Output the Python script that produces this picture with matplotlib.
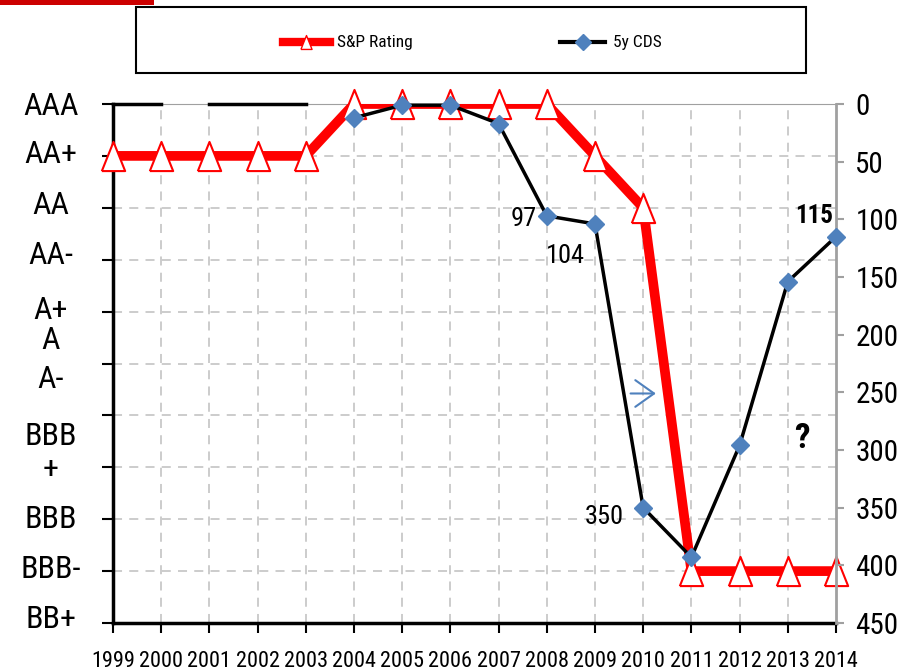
import numpy as np
import matplotlib
matplotlib.use('Agg')
import matplotlib.pyplot as plt
from matplotlib import font_manager

# look for a narrow/condensed face (chart was made with Arial Narrow)
cond = None
for pref in ['LiberationSansNarrow-Regular', 'RobotoCondensed-Regular', 'DejaVuSansCondensed.ttf',
             'Condensed-Regular', 'Condensed']:
    hits = [f.fname for f in font_manager.fontManager.ttflist
            if pref in f.fname.split('/')[-1] and 'Bold' not in f.fname and 'Oblique' not in f.fname]
    if hits:
        cond = hits[0]
        break
cond_b = None
if cond:
    b = [f.fname for f in font_manager.fontManager.ttflist
         if f.fname.split('/')[-1].replace('-Bold', '-Regular').replace('Bold', '') ==
         cond.split('/')[-1] and 'Bold' in f.fname and 'Oblique' not in f.fname]
    cond_b = b[0] if b else None


def fp(size, bold=False):
    if bold and cond_b:
        return font_manager.FontProperties(fname=cond_b, size=size)
    if cond:
        return font_manager.FontProperties(fname=cond, size=size, weight='bold' if bold else 'normal')
    return font_manager.FontProperties(family='Liberation Sans', size=size,
                                       weight='bold' if bold else 'normal')


years = list(range(1999, 2015))
# S&P rating on notch scale (0 = AAA, 1 = AA+, ... 9 = BBB-)
rating = [1, 1, 1, 1, 1, 0, 0, 0, 0, 0, 1, 2, 9, 9, 9, 9]
cds_years = list(range(2004, 2015))
cds = [12, 1, 1, 17, 97, 104, 350, 393, 296, 154, 115]
early_segments = [(1999, 2000), (2001, 2003)]

rating_labels = ['AAA', 'AA+', 'AA', 'AA-', 'A+', 'A', 'A-', 'BBB', '+', 'BBB', 'BBB-', 'BB+']
label_pos = [0.05, 0.98, 1.95, 2.92, 3.97, 4.55, 5.3, 6.4, 7.05, 8.0, 8.97, 9.94]

cds_notes = [(2008, 97, '97'), (2009, 104, '104'), (2010, 350, '350')]

fig = plt.figure(figsize=(8.99, 6.71), dpi=100)
ax = fig.add_axes([113 / 899, 1 - 623 / 671, (836 - 113) / 899, (623 - 104) / 671])
ax2 = ax.twinx()

ax.set_xlim(1999, 2014)
ax.set_ylim(10, 0)
ax2.set_ylim(450, 0)

# grid
for y in range(1, 10):
    ax.axhline(y, color='#c8c8c8', lw=1.3, ls=(0, (5, 4)), zorder=0)
for x in years[1:-1]:
    ax.axvline(x, color='#c8c8c8', lw=1.3, ls=(0, (5, 4)), zorder=0)

# red rating line, tall narrow open triangles
tri = [(-0.8, -1), (0.8, -1), (0, 1), (-0.8, -1)]
ax.plot(years, rating, color='#ff0000', lw=7, zorder=3, solid_joinstyle='miter')
ax.plot(years, rating, ls='none', marker=tri, ms=21, mfc='white', mec='#ff0000',
        mew=1.5, zorder=4, clip_on=False)

# CDS
for a, b in early_segments:
    ax2.plot([a, b], [0, 0], color='black', lw=2.5, zorder=5, clip_on=False)
ax2.plot(cds_years, cds, color='black', lw=2.5, marker='D', ms=9, mfc='#4f81bd',
         mec='#4f81bd', zorder=6, clip_on=False)

offs = {'97': (0.2, 3), '104': (0.2, 28), '350': (0.4, 8)}
for x, y, t in cds_notes:
    dx, dy = offs[t]
    ax2.text(x - dx, y + dy, t, fontproperties=fp(19), ha='right', va='center')
ax2.text(2013.95, 97, '115', fontproperties=fp(18, bold=True), ha='right', va='center')
ax2.text(2013.3, 290, '?', fontproperties=fp(25, bold=True), ha='center', va='center')
ax2.annotate('', xy=(2010.32, 251), xytext=(2009.68, 251),
             arrowprops=dict(arrowstyle='->,head_length=0.45,head_width=0.32',
                             color='#4f81bd', lw=1.5, mutation_scale=30))

# spines
for s in ['left', 'bottom']:
    ax.spines[s].set_linewidth(2.5)
ax.spines['top'].set_color('#a0a0a0')
ax.spines['right'].set_visible(False)
for s in ['left', 'top', 'bottom']:
    ax2.spines[s].set_visible(False)
ax2.spines['right'].set_color('#a0a0a0')
ax2.spines['right'].set_linewidth(2)

ax.set_xticks(years)
ax.set_xticklabels([str(y) for y in years], fontproperties=fp(16))
ax.tick_params(axis='x', direction='out', length=7, width=1.5, pad=13)
ax.set_yticks(range(11))
ax.set_yticklabels([])
ax.tick_params(axis='y', direction='out', length=8, width=1.5)
for p, t in zip(label_pos, rating_labels):
    ax.text(-62 / 723, p, t, transform=ax.get_yaxis_transform(),
            fontproperties=fp(23), ha='center', va='center')

ax2.set_yticks(range(0, 451, 50))
ax2.set_yticklabels([str(v) for v in range(0, 451, 50)], fontproperties=fp(21))
ax2.tick_params(axis='y', direction='out', length=6, width=1.5, colors='#a0a0a0',
                labelcolor='black', pad=8)

# legend box
fig.patches.append(plt.Rectangle((136 / 899, 1 - 73 / 671), (806 - 136) / 899, 66 / 671,
                                 transform=fig.transFigure, fill=False, ec='black', lw=1.5))
fig.patches.append(plt.Rectangle((0, 1 - 5 / 671), 154 / 899, 5 / 671,
                                 transform=fig.transFigure, fc='#cc0000', ec='none'))
ly = 1 - 42 / 671
fig.lines.append(plt.Line2D([283 / 899, 330 / 899], [ly, ly], color='#ff0000', lw=6,
                            transform=fig.transFigure))
fig.lines.append(plt.Line2D([306 / 899], [ly], ls='none', marker=tri, ms=10, mfc='white',
                            mec='#ff0000', transform=fig.transFigure))
fig.text(337 / 899, ly, 'S&P Rating', fontproperties=fp(12.5), va='center')
fig.lines.append(plt.Line2D([560 / 899, 605 / 899], [ly, ly], color='black', lw=3,
                            transform=fig.transFigure))
fig.lines.append(plt.Line2D([583 / 899], [ly], ls='none', marker='D', ms=8, mfc='#4f81bd',
                            mec='#4f81bd', transform=fig.transFigure))
fig.text(613 / 899, ly, '5y CDS', fontproperties=fp(12.5), va='center')

fig.savefig('out.png', dpi=100)
